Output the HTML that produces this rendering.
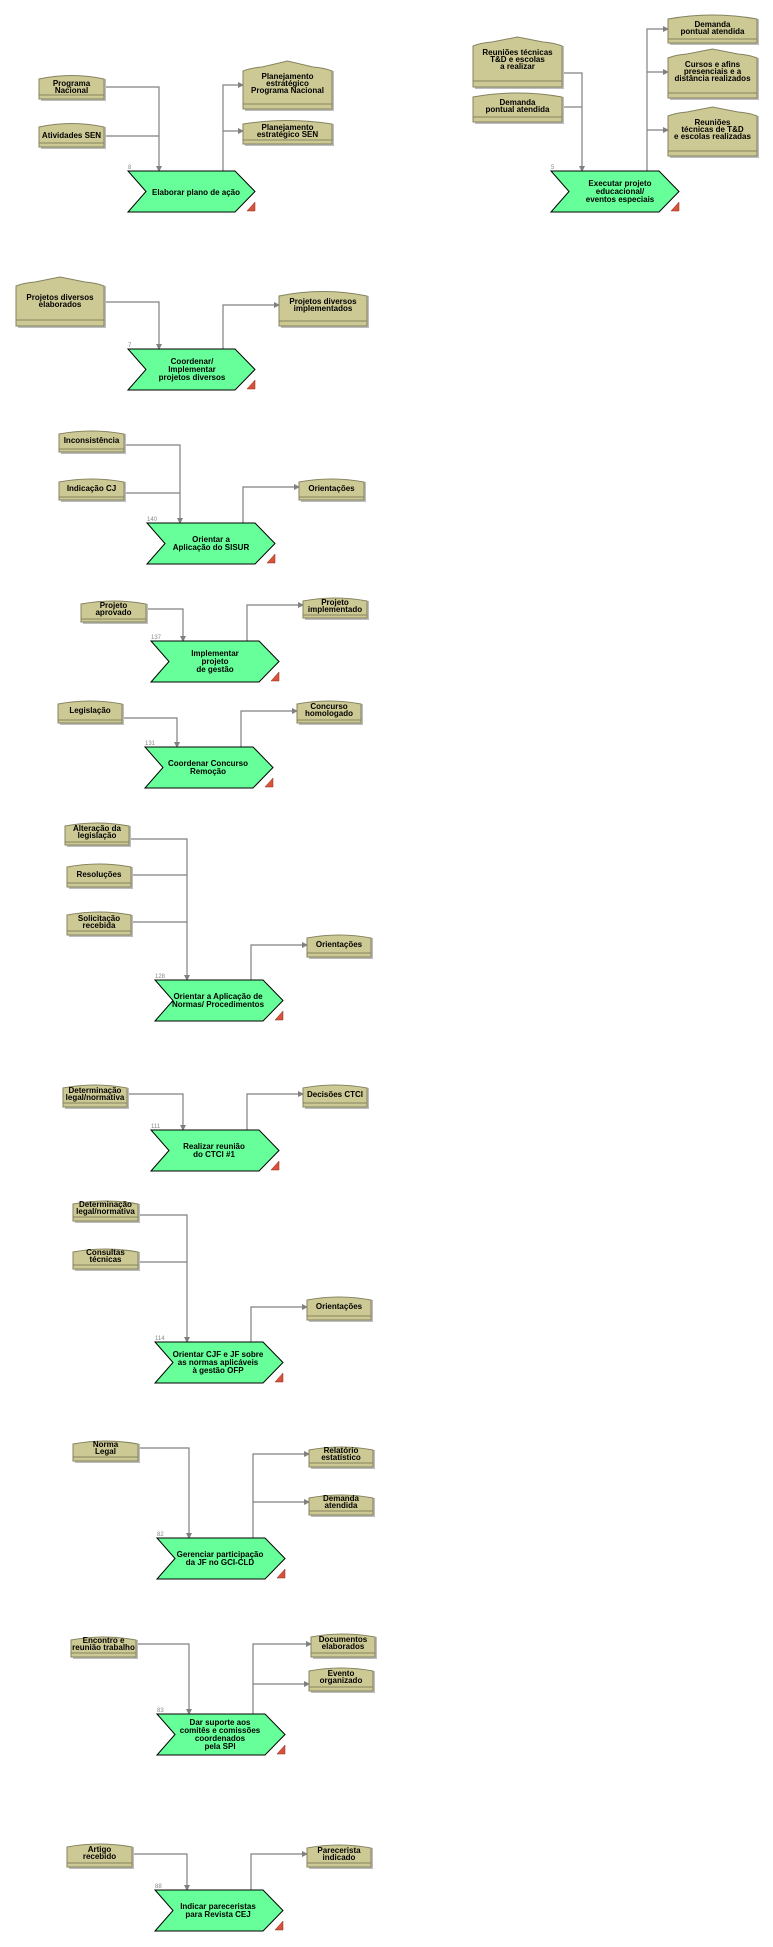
<!DOCTYPE html>
<html><head><meta charset="utf-8"><style>
html,body{margin:0;padding:0;background:#fff;}
svg{display:block;}
text{font-family:"Liberation Sans",sans-serif;font-weight:bold;font-size:8px;fill:#000;text-anchor:middle;}
.n{font-size:6px;font-weight:normal;fill:#888;text-anchor:start;}
.b{fill:#cdc995;stroke:#85835f;stroke-width:1;}
.sh{fill:#bdbdbd;}
.bl{stroke:#85835f;stroke-width:1;fill:none;}
.c{fill:#66ff99;stroke:#000;stroke-width:1;}
.l{fill:none;stroke:#808080;stroke-width:1.2;}
.a{fill:#808080;}
.t{fill:#d9533b;stroke:#8a2a1a;stroke-width:0.5;}
</style></head><body>
<svg width="773" height="1947" viewBox="0 0 773 1947" xmlns="http://www.w3.org/2000/svg">
<defs>
<marker id="ar" markerWidth="6" markerHeight="6" refX="5" refY="3" orient="auto" markerUnits="userSpaceOnUse"><path d="M0,0 L6,3 L0,6 Z" fill="#808080"/></marker>
</defs>

<!-- ===== connectors with arrows ===== -->
<g class="l" marker-end="url(#ar)">
<polyline points="104,87 159,87 159,171"/>
<polyline points="223,171 223,85 243,85"/>
<polyline points="223,131 243,131"/>
<polyline points="562,73 582,73 582,171"/>
<polyline points="647,171 647,29 668,29"/>
<polyline points="647,72 668,72"/>
<polyline points="647,130 668,130"/>
<polyline points="104,302 159,302 159,349"/>
<polyline points="223,349 223,305 279,305"/>
<polyline points="124,445 180,445 180,523"/>
<polyline points="243,523 243,487 299,487"/>
<polyline points="146,609 183,609 183,641"/>
<polyline points="247,641 247,605 303,605"/>
<polyline points="122,718 177,718 177,747"/>
<polyline points="241,747 241,711 297,711"/>
<polyline points="129,839 187,839 187,980"/>
<polyline points="251,980 251,945 307,945"/>
<polyline points="127,1094 183,1094 183,1130"/>
<polyline points="247,1130 247,1094 303,1094"/>
<polyline points="138,1215 187,1215 187,1342"/>
<polyline points="251,1342 251,1307 307,1307"/>
<polyline points="138,1448 189,1448 189,1538"/>
<polyline points="253,1538 253,1454 309,1454"/>
<polyline points="253,1502 309,1502"/>
<polyline points="136,1644 189,1644 189,1714"/>
<polyline points="253,1714 253,1644 311,1644"/>
<polyline points="253,1684 309,1684"/>
<polyline points="132,1854 187,1854 187,1890"/>
<polyline points="251,1890 251,1854 307,1854"/>
</g>
<!-- merging input lines without arrows -->
<g class="l">
<polyline points="104,136 159,136"/>
<polyline points="562,107 582,107"/>
<polyline points="124,493 180,493"/>
<polyline points="131,875 187,875"/>
<polyline points="131,922 187,922"/>
<polyline points="138,1262 187,1262"/>
</g>

<!-- ===== chevrons ===== -->
<g>
<path class="c" d="M128,171 L235,171 L255,191.5 L235,212 L128,212 L146,191.5 Z"/><text class="n" x="128" y="169">8</text><path class="t" d="M255,202 L255,211 L247,211 Z"/>
<text x="196" y="195">Elaborar plano de ação</text>

<path class="c" d="M551,171 L659,171 L679,191.5 L659,212 L551,212 L569,191.5 Z"/><text class="n" x="551" y="169">5</text><path class="t" d="M679,202 L679,211 L671,211 Z"/>
<text x="620" y="186">Executar projeto</text><text x="620" y="194">educacional/</text><text x="620" y="202">eventos especiais</text>

<path class="c" d="M128,349 L235,349 L255,369.5 L235,390 L128,390 L146,369.5 Z"/><text class="n" x="128" y="347">7</text><path class="t" d="M255,380 L255,389 L247,389 Z"/>
<text x="192" y="364">Coordenar/</text><text x="192" y="372">Implementar</text><text x="192" y="380">projetos diversos</text>

<path class="c" d="M147,523 L255,523 L275,543.5 L255,564 L147,564 L165,543.5 Z"/><text class="n" x="147" y="521">140</text><path class="t" d="M275,554 L275,563 L267,563 Z"/>
<text x="211" y="542">Orientar a</text><text x="211" y="550">Aplicação do SISUR</text>

<path class="c" d="M151,641 L259,641 L279,661.5 L259,682 L151,682 L169,661.5 Z"/><text class="n" x="151" y="639">137</text><path class="t" d="M279,672 L279,681 L271,681 Z"/>
<text x="215" y="656">Implementar</text><text x="215" y="664">projeto</text><text x="215" y="672">de gestão</text>

<path class="c" d="M145,747 L253,747 L273,767.5 L253,788 L145,788 L163,767.5 Z"/><text class="n" x="145" y="745">131</text><path class="t" d="M273,778 L273,787 L265,787 Z"/>
<text x="208" y="766">Coordenar Concurso</text><text x="208" y="774">Remoção</text>

<path class="c" d="M155,980 L263,980 L283,1000.5 L263,1021 L155,1021 L173,1000.5 Z"/><text class="n" x="155" y="978">128</text><path class="t" d="M283,1011 L283,1020 L275,1020 Z"/>
<text x="218" y="999">Orientar a Aplicação de</text><text x="218" y="1007">Normas/ Procedimentos</text>

<path class="c" d="M151,1130 L259,1130 L279,1150.5 L259,1171 L151,1171 L169,1150.5 Z"/><text class="n" x="151" y="1128">111</text><path class="t" d="M279,1161 L279,1170 L271,1170 Z"/>
<text x="214" y="1149">Realizar reunião</text><text x="214" y="1157">do CTCI #1</text>

<path class="c" d="M155,1342 L263,1342 L283,1362.5 L263,1383 L155,1383 L173,1362.5 Z"/><text class="n" x="155" y="1340">114</text><path class="t" d="M283,1373 L283,1382 L275,1382 Z"/>
<text x="218" y="1357">Orientar CJF e JF sobre</text><text x="218" y="1365">as normas aplicáveis</text><text x="218" y="1373">à gestão OFP</text>

<path class="c" d="M157,1538 L265,1538 L285,1558.5 L265,1579 L157,1579 L175,1558.5 Z"/><text class="n" x="157" y="1536">82</text><path class="t" d="M285,1569 L285,1578 L277,1578 Z"/>
<text x="220" y="1557">Gerenciar participação</text><text x="220" y="1565">da JF no GCI-CLD</text>

<path class="c" d="M157,1714 L265,1714 L285,1734.5 L265,1755 L157,1755 L175,1734.5 Z"/><text class="n" x="157" y="1712">83</text><path class="t" d="M285,1745 L285,1754 L277,1754 Z"/>
<text x="220" y="1725">Dar suporte aos</text><text x="220" y="1733">comitês e comissões</text><text x="220" y="1741">coordenados</text><text x="220" y="1749">pela SPI</text>

<path class="c" d="M155,1890 L263,1890 L283,1910.5 L263,1931 L155,1931 L173,1910.5 Z"/><text class="n" x="155" y="1888">88</text><path class="t" d="M283,1921 L283,1930 L275,1930 Z"/>
<text x="218" y="1909">Indicar pareceristas</text><text x="218" y="1917">para Revista CEJ</text>
</g>

<!-- ===== boxes (small arc-top) ===== -->
<g>
<rect class="sh" x="41" y="79" width="65" height="22"/><path class="b" d="M39,79 Q71.5,72 104,79 L104,99 L39,99 Z"/><line class="bl" x1="39" y1="95" x2="104" y2="95"/>
<text x="71.5" y="86">Programa</text><text x="71.5" y="93">Nacional</text>
<rect class="sh" x="41" y="127" width="65" height="22"/><path class="b" d="M39,127 Q71.5,120 104,127 L104,147 L39,147 Z"/><line class="bl" x1="39" y1="143" x2="104" y2="143"/>
<text x="71.5" y="138">Atividades SEN</text>
<rect class="sh" x="245" y="124" width="89" height="22"/><path class="b" d="M243,124 Q287.5,117 332,124 L332,144 L243,144 Z"/><line class="bl" x1="243" y1="140" x2="332" y2="140"/>
<text x="287.5" y="130">Planejamento</text><text x="287.5" y="137">estratégico SEN</text>
<rect class="sh" x="475" y="97" width="89" height="27"/><path class="b" d="M473,97 Q517.5,89 562,97 L562,122 L473,122 Z"/><line class="bl" x1="473" y1="117" x2="562" y2="117"/>
<text x="517.5" y="105">Demanda</text><text x="517.5" y="112">pontual atendida</text>
<rect class="sh" x="670" y="19" width="89" height="26"/><path class="b" d="M668,19 Q712.5,11 757,19 L757,43 L668,43 Z"/><line class="bl" x1="668" y1="39" x2="757" y2="39"/>
<text x="712.5" y="27">Demanda</text><text x="712.5" y="34">pontual atendida</text>
<rect class="sh" x="281" y="296" width="88" height="32"/><path class="b" d="M279,296 Q323,287 367,296 L367,326 L279,326 Z"/><line class="bl" x1="279" y1="321" x2="367" y2="321"/>
<text x="323" y="304">Projetos diversos</text><text x="323" y="311">implementados</text>

<rect class="sh" x="61" y="434" width="65" height="20"/><path class="b" d="M59,434 Q91.5,428 124,434 L124,452 L59,452 Z"/><line class="bl" x1="59" y1="449" x2="124" y2="449"/>
<text x="91.5" y="443">Inconsistência</text>
<rect class="sh" x="61" y="482" width="65" height="20"/><path class="b" d="M59,482 Q91.5,476 124,482 L124,500 L59,500 Z"/><line class="bl" x1="59" y1="497" x2="124" y2="497"/>
<text x="91.5" y="491">Indicação CJ</text>
<rect class="sh" x="301" y="482" width="65" height="20"/><path class="b" d="M299,482 Q331.5,476 364,482 L364,500 L299,500 Z"/><line class="bl" x1="299" y1="497" x2="364" y2="497"/>
<text x="331.5" y="491">Orientações</text>

<rect class="sh" x="83" y="604" width="65" height="20"/><path class="b" d="M81,604 Q113.5,598 146,604 L146,622 L81,622 Z"/><line class="bl" x1="81" y1="619" x2="146" y2="619"/>
<text x="113.5" y="608">Projeto</text><text x="113.5" y="615">aprovado</text>
<rect class="sh" x="305" y="601" width="64" height="19"/><path class="b" d="M303,601 Q335,595 367,601 L367,618 L303,618 Z"/><line class="bl" x1="303" y1="615" x2="367" y2="615"/>
<text x="335" y="605">Projeto</text><text x="335" y="612">implementado</text>

<rect class="sh" x="60" y="704" width="64" height="21"/><path class="b" d="M58,704 Q90,698 122,704 L122,723 L58,723 Z"/><line class="bl" x1="58" y1="720" x2="122" y2="720"/>
<text x="90" y="713">Legislação</text>
<rect class="sh" x="299" y="704" width="64" height="21"/><path class="b" d="M297,704 Q329,698 361,704 L361,723 L297,723 Z"/><line class="bl" x1="297" y1="720" x2="361" y2="720"/>
<text x="329" y="709">Concurso</text><text x="329" y="716">homologado</text>

<rect class="sh" x="67" y="826" width="64" height="21"/><path class="b" d="M65,826 Q97,820 129,826 L129,845 L65,845 Z"/><line class="bl" x1="65" y1="842" x2="129" y2="842"/>
<text x="97" y="831">Alteração da</text><text x="97" y="838">legislação</text>
<rect class="sh" x="69" y="867" width="64" height="22"/><path class="b" d="M67,867 Q99,861 131,867 L131,887 L67,887 Z"/><line class="bl" x1="67" y1="883" x2="131" y2="883"/>
<text x="99" y="877">Resoluções</text>
<rect class="sh" x="69" y="915" width="64" height="22"/><path class="b" d="M67,915 Q99,909 131,915 L131,935 L67,935 Z"/><line class="bl" x1="67" y1="931" x2="131" y2="931"/>
<text x="99" y="921">Solicitação</text><text x="99" y="928">recebida</text>
<rect class="sh" x="309" y="938" width="64" height="21"/><path class="b" d="M307,938 Q339,932 371,938 L371,957 L307,957 Z"/><line class="bl" x1="307" y1="953" x2="371" y2="953"/>
<text x="339" y="947">Orientações</text>

<rect class="sh" x="65" y="1088" width="64" height="21"/><path class="b" d="M63,1088 Q95,1082 127,1088 L127,1107 L63,1107 Z"/><line class="bl" x1="63" y1="1103" x2="127" y2="1103"/>
<text x="95" y="1093">Determinação</text><text x="95" y="1100">legal/normativa</text>
<rect class="sh" x="305" y="1088" width="64" height="21"/><path class="b" d="M303,1088 Q335,1082 367,1088 L367,1107 L303,1107 Z"/><line class="bl" x1="303" y1="1103" x2="367" y2="1103"/>
<text x="335" y="1097">Decisões CTCI</text>

<rect class="sh" x="75" y="1204" width="65" height="19"/><path class="b" d="M73,1204 Q105.5,1198 138,1204 L138,1221 L73,1221 Z"/><line class="bl" x1="73" y1="1217" x2="138" y2="1217"/>
<text x="105.5" y="1207">Determinação</text><text x="105.5" y="1214">legal/normativa</text>
<rect class="sh" x="75" y="1252" width="65" height="19"/><path class="b" d="M73,1252 Q105.5,1246 138,1252 L138,1269 L73,1269 Z"/><line class="bl" x1="73" y1="1265" x2="138" y2="1265"/>
<text x="105.5" y="1255">Consultas</text><text x="105.5" y="1262">técnicas</text>
<rect class="sh" x="309" y="1300" width="64" height="22"/><path class="b" d="M307,1300 Q339,1294 371,1300 L371,1320 L307,1320 Z"/><line class="bl" x1="307" y1="1316" x2="371" y2="1316"/>
<text x="339" y="1309">Orientações</text>

<rect class="sh" x="75" y="1444" width="65" height="19"/><path class="b" d="M73,1444 Q105.5,1438 138,1444 L138,1461 L73,1461 Z"/><line class="bl" x1="73" y1="1457" x2="138" y2="1457"/>
<text x="105.5" y="1447">Norma</text><text x="105.5" y="1454">Legal</text>
<rect class="sh" x="311" y="1450" width="64" height="19"/><path class="b" d="M309,1450 Q341,1444 373,1450 L373,1467 L309,1467 Z"/><line class="bl" x1="309" y1="1463" x2="373" y2="1463"/>
<text x="341" y="1453">Relatório</text><text x="341" y="1460">estatístico</text>
<rect class="sh" x="311" y="1498" width="64" height="19"/><path class="b" d="M309,1498 Q341,1492 373,1498 L373,1515 L309,1515 Z"/><line class="bl" x1="309" y1="1511" x2="373" y2="1511"/>
<text x="341" y="1501">Demanda</text><text x="341" y="1508">atendida</text>

<rect class="sh" x="73" y="1640" width="65" height="19"/><path class="b" d="M71,1640 Q103.5,1634 136,1640 L136,1657 L71,1657 Z"/><line class="bl" x1="71" y1="1653" x2="136" y2="1653"/>
<text x="103.5" y="1643">Encontro e</text><text x="103.5" y="1650">reunião trabalho</text>
<rect class="sh" x="313" y="1637" width="64" height="22"/><path class="b" d="M311,1637 Q343,1631 375,1637 L375,1657 L311,1657 Z"/><line class="bl" x1="311" y1="1653" x2="375" y2="1653"/>
<text x="343" y="1642">Documentos</text><text x="343" y="1649">elaborados</text>
<rect class="sh" x="311" y="1671" width="64" height="22"/><path class="b" d="M309,1671 Q341,1665 373,1671 L373,1691 L309,1691 Z"/><line class="bl" x1="309" y1="1687" x2="373" y2="1687"/>
<text x="341" y="1676">Evento</text><text x="341" y="1683">organizado</text>

<rect class="sh" x="69" y="1847" width="65" height="22"/><path class="b" d="M67,1847 Q99.5,1841 132,1847 L132,1867 L67,1867 Z"/><line class="bl" x1="67" y1="1863" x2="132" y2="1863"/>
<text x="99.5" y="1852">Artigo</text><text x="99.5" y="1859">recebido</text>
<rect class="sh" x="309" y="1848" width="64" height="21"/><path class="b" d="M307,1848 Q339,1842 371,1848 L371,1867 L307,1867 Z"/><line class="bl" x1="307" y1="1863" x2="371" y2="1863"/>
<text x="339" y="1853">Parecerista</text><text x="339" y="1860">indicado</text>
</g>

<!-- ===== tall peaked boxes ===== -->
<g>
<rect class="sh" x="245" y="71" width="89" height="40"/><path class="b" d="M243,71 Q250,68 262,67 L287.5,61 L313,67 Q325,68 332,71 L332,109 L243,109 Z"/><line class="bl" x1="243" y1="104" x2="332" y2="104"/>
<text x="287.5" y="79">Planejamento</text><text x="287.5" y="86">estratégico</text><text x="287.5" y="93">Programa Nacional</text>

<rect class="sh" x="475" y="46" width="89" height="43"/><path class="b" d="M473,46 Q480,43 492,42 L517.5,37 L543,42 Q555,43 562,46 L562,87 L473,87 Z"/><line class="bl" x1="473" y1="81" x2="562" y2="81"/>
<text x="517.5" y="55">Reuniões técnicas</text><text x="517.5" y="62">T&amp;D e escolas</text><text x="517.5" y="69">a realizar</text>

<rect class="sh" x="670" y="58" width="89" height="42"/><path class="b" d="M668,58 Q675,55 687,54 L712.5,49 L738,54 Q750,55 757,58 L757,98 L668,98 Z"/><line class="bl" x1="668" y1="93" x2="757" y2="93"/>
<text x="712.5" y="67">Cursos e afins</text><text x="712.5" y="74">presenciais e a</text><text x="712.5" y="81">distância realizados</text>

<rect class="sh" x="670" y="116" width="89" height="42"/><path class="b" d="M668,116 Q675,113 687,112 L712.5,107 L738,112 Q750,113 757,116 L757,156 L668,156 Z"/><line class="bl" x1="668" y1="151" x2="757" y2="151"/>
<text x="712.5" y="125">Reuniões</text><text x="712.5" y="132">técnicas de T&amp;D</text><text x="712.5" y="139">e escolas realizadas</text>

<rect class="sh" x="18" y="286" width="88" height="42"/><path class="b" d="M16,286 Q23,283 35,282 L60,277 L85,282 Q97,283 104,286 L104,326 L16,326 Z"/><line class="bl" x1="16" y1="320" x2="104" y2="320"/>
<text x="60" y="300">Projetos diversos</text><text x="60" y="307">elaborados</text>
</g>
</svg>
</body></html>
